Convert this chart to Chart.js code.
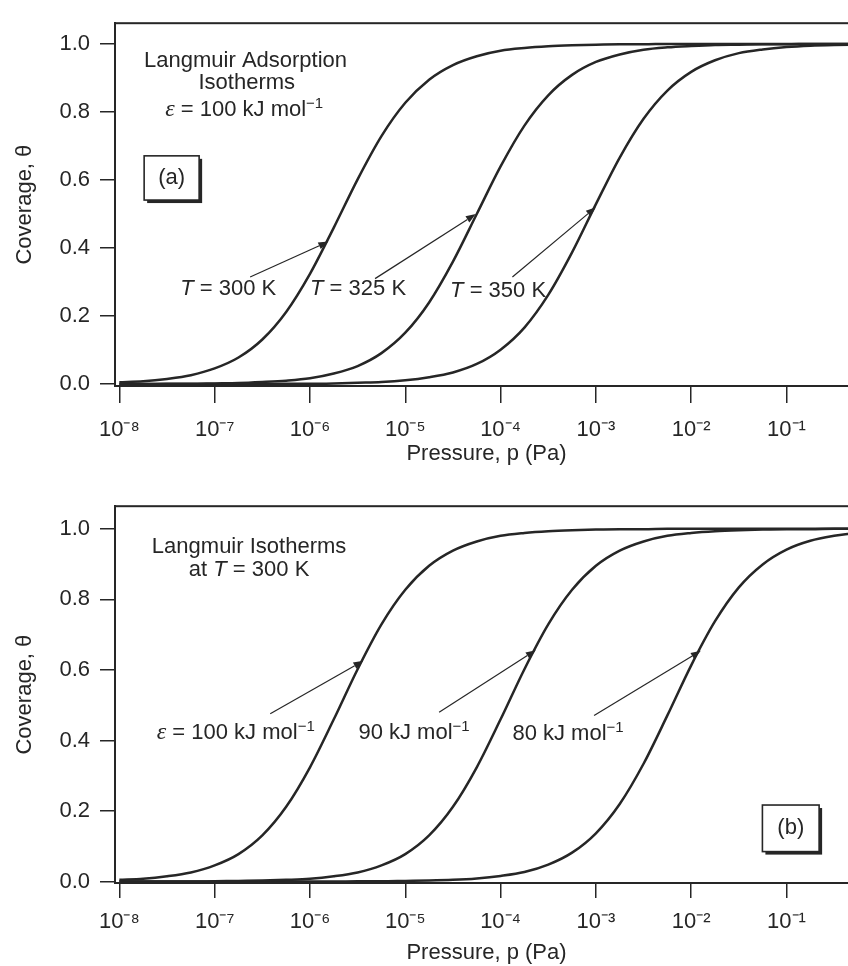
<!DOCTYPE html>
<html><head><meta charset="utf-8">
<script src="https://cdn.jsdelivr.net/npm/chart.js@4.4.1/dist/chart.umd.min.js"></script>
<style>
html,body{margin:0;padding:0;background:#fff;overflow:hidden;width:848px;height:966px;position:relative;}
canvas{position:absolute;left:0;}
</style></head><body>
<canvas id="panelA" width="870" height="483" style="top:0px"></canvas>
<canvas id="panelB" width="870" height="483" style="top:483px"></canvas>
<script>
// ---------- data ----------
const logPressure = [-8,-7.75,-7.5,-7.25,-7,-6.75,-6.5,-6.25,-6,-5.75,-5.5,-5.25,-5,-4.75,-4.5,-4.25,-4,-3.75,-3.5,-3.25,-3,-2.75,-2.5,-2.25,-2,-1.75,-1.5,-1.25,-1,-0.75,-0.5,-0.25,0];
const tickExponents = [-8,-7,-6,-5,-4,-3,-2,-1];
const coverageTicks = [0,0.2,0.4,0.6,0.8,1.0];

// panel (a): eps = 100 kJ/mol at three temperatures
const theta300K = [0.005,0.008,0.015,0.026,0.046,0.078,0.131,0.212,0.324,0.460,0.602,0.729,0.827,0.895,0.938,0.964,0.980,0.988,0.993,0.996,0.998,0.999,0.999,1,1,1,1,1,1,1,1,1,1];
const theta325K = [0,0,0.001,0.001,0.002,0.003,0.006,0.010,0.017,0.031,0.053,0.091,0.151,0.240,0.360,0.500,0.640,0.760,0.849,0.909,0.947,0.969,0.983,0.990,0.994,0.997,0.998,0.999,0.999,1,1,1,1];
const theta350K = [0,0,0,0,0,0,0,0.001,0.001,0.002,0.004,0.006,0.011,0.020,0.034,0.059,0.101,0.166,0.262,0.387,0.529,0.666,0.780,0.863,0.918,0.952,0.973,0.984,0.991,0.995,0.997,0.998,0.999];

// panel (b): T = 300 K at three adsorption energies
const theta100kJ = [0.005,0.008,0.015,0.026,0.046,0.078,0.131,0.212,0.324,0.460,0.602,0.729,0.827,0.895,0.938,0.964,0.980,0.988,0.993,0.996,0.998,0.999,0.999,1,1,1,1,1,1,1,1,1,1];
const theta90kJ = [0,0,0,0,0.001,0.002,0.003,0.005,0.008,0.015,0.026,0.046,0.078,0.131,0.212,0.324,0.460,0.602,0.729,0.827,0.895,0.938,0.964,0.980,0.988,0.993,0.996,0.998,0.999,0.999,1,1,1];
const theta80kJ = [0,0,0,0,0,0,0,0,0,0,0.001,0.001,0.002,0.003,0.005,0.009,0.016,0.027,0.048,0.082,0.137,0.220,0.334,0.471,0.613,0.738,0.834,0.899,0.941,0.966,0.980,0.989,0.994];

// ---------- styles ----------
const INK = '#262626';
const FONT = 'Liberation Sans, Arial, Helvetica, sans-serif';
const SUP = {'-':'\u207B','0':'\u2070','1':'\u00B9','2':'\u00B2','3':'\u00B3','4':'\u2074','5':'\u2075','6':'\u2076','7':'\u2077','8':'\u2078','9':'\u2079'};

// ---------- annotations (positions in data space: log10 p, theta) ----------
const EPS = {t:'\u03B5', eps:true};
const notesA = {
  texts: [
    {lx:-6.676, th:0.931, align:'center', parts:[{t:'Langmuir Adsorption'}]},
    {lx:-6.663, th:0.868, align:'center', parts:[{t:'Isotherms'}]},
    {lx:-7.519, th:0.789, align:'left', parts:[EPS,{t:' = 100 kJ mol'},{t:'\u22121',sup:true}]},
    {lx:-7.361, th:0.262, align:'left', parts:[{t:'T',it:true},{t:' = 300 K'}]},
    {lx:-5.999, th:0.262, align:'left', parts:[{t:'T',it:true},{t:' = 325 K'}]},
    {lx:-4.530, th:0.256, align:'left', parts:[{t:'T',it:true},{t:' = 350 K'}]}
  ],
  arrows: [[-6.628,0.315,-5.807,0.419],[-5.317,0.310,-4.260,0.500],[-3.876,0.315,-3.001,0.52]],
  box: {lx0:-7.740, lx1:-7.163, th0:0.671, th1:0.541, label:'(a)'}
};
const notesB = {
  texts: [
    {lx:-6.639, th:0.932, align:'center', parts:[{t:'Langmuir Isotherms'}]},
    {lx:-6.639, th:0.866, align:'center', parts:[{t:'at '},{t:'T',it:true},{t:' = 300 K'}]},
    {lx:-7.608, th:0.405, align:'left', parts:[EPS,{t:' = 100 kJ mol'},{t:'\u22121',sup:true}]},
    {lx:-5.492, th:0.405, align:'left', parts:[{t:'90 kJ mol'},{t:'\u22121',sup:true}]},
    {lx:-3.876, th:0.400, align:'left', parts:[{t:'80 kJ mol'},{t:'\u22121',sup:true}]}
  ],
  arrows: [[-6.417,0.476,-5.440,0.626],[-4.645,0.480,-3.631,0.656],[-3.019,0.471,-1.899,0.654]],
  box: {lx0:-1.253, lx1:-0.658, th0:0.217, th1:0.085, label:'(b)'}
};

function partFont(p){
  if (p.sup) return '15px ' + FONT;
  if (p.eps) return 'italic 24px Liberation Serif, serif';
  if (p.it) return 'italic 22px ' + FONT;
  return '22px ' + FONT;
}

const annotPlugin = {
  id: 'annot',
  afterDraw(chart, args, opts) {
    const notes = opts.notes; if (!notes) return;
    const {ctx} = chart; const xs = chart.scales.x, ys = chart.scales.y;
    const X = lx => xs.getPixelForValue(Math.pow(10, lx));
    const Y = th => ys.getPixelForValue(th);
    ctx.save();
    ctx.fillStyle = INK; ctx.strokeStyle = INK; ctx.textBaseline = 'alphabetic';
    // texts
    for (const n of notes.texts) {
      let w = 0;
      for (const p of n.parts) { ctx.font = partFont(p); w += ctx.measureText(p.t).width; }
      let x = X(n.lx); const y = Y(n.th);
      if (n.align === 'center') x -= w/2;
      for (const p of n.parts) {
        ctx.font = partFont(p);
        ctx.fillText(p.t, x, p.sup ? y - 8 : y);
        x += ctx.measureText(p.t).width;
      }
    }
    // arrows
    ctx.lineWidth = 1.2;
    for (const a of notes.arrows) {
      const x0 = X(a[0]), y0 = Y(a[1]), x1 = X(a[2]), y1 = Y(a[3]);
      const ang = Math.atan2(y1-y0, x1-x0), L = 10, H = 3.6;
      const bx = x1 - L*Math.cos(ang), by = y1 - L*Math.sin(ang);
      ctx.beginPath(); ctx.moveTo(x0,y0); ctx.lineTo(bx,by); ctx.stroke();
      ctx.beginPath(); ctx.moveTo(x1,y1);
      ctx.lineTo(bx + H*Math.sin(ang), by - H*Math.cos(ang));
      ctx.lineTo(bx - H*Math.sin(ang), by + H*Math.cos(ang));
      ctx.closePath(); ctx.fill();
    }
    // boxed panel label with drop shadow
    const b = notes.box;
    const bx0 = X(b.lx0), bx1 = X(b.lx1), by0 = Y(b.th0), by1 = Y(b.th1);
    ctx.fillStyle = INK; ctx.fillRect(bx0+3, by0+3, bx1-bx0, by1-by0);
    ctx.fillStyle = '#fff'; ctx.fillRect(bx0, by0, bx1-bx0, by1-by0);
    ctx.lineWidth = 1.6; ctx.strokeRect(bx0, by0, bx1-bx0, by1-by0);
    ctx.fillStyle = INK; ctx.font = '22px ' + FONT; ctx.textAlign = 'center'; ctx.textBaseline = 'middle';
    ctx.fillText(b.label, (bx0+bx1)/2, (by0+by1)/2);
    ctx.restore();
  }
};

const framePlugin = {
  id: 'frame',
  afterDatasetsDraw(chart) {
    const {ctx, chartArea:a} = chart;
    ctx.save(); ctx.strokeStyle = INK; ctx.lineWidth = 2;
    ctx.strokeRect(a.left, a.top, a.right-a.left, a.bottom-a.top);
    ctx.restore();
  }
};

function makePanel(id, seriesList, g, notes) {
  const datasets = seriesList.map(s => ({
    data: logPressure.map((e,i) => ({x: Math.pow(10, e), y: s[i]})),
    borderColor: INK, borderWidth: 2.5, pointRadius: 0, fill: false,
    cubicInterpolationMode: 'monotone'
  }));
  return new Chart(document.getElementById(id), {
    type: 'line',
    data: { datasets },
    plugins: [framePlugin, annotPlugin],
    options: {
      responsive: false, animation: false, devicePixelRatio: 1,
      layout: { padding: { top: g.top, right: 12, bottom: 0, left: 0 } },
      plugins: { legend: {display:false}, tooltip: {enabled:false}, annot: { notes } },
      scales: {
        x: {
          type: 'logarithmic', min: Math.pow(10, -8.045), max: Math.pow(10, -0.25),
          afterBuildTicks: s => { s.ticks = tickExponents.map(e => ({value: Math.pow(10, e)})); },
          afterFit: s => { s.height = 483 - g.bottom; },
          ticks: { color: INK, font: {family: FONT, size: 22}, padding: g.xTickPad, maxRotation: 0, autoSkip: false,
            callback: v => '10' + String(Math.round(Math.log10(v))).split('').map(c => SUP[c]).join('') },
          grid: { drawOnChartArea: false, drawTicks: true, tickLength: g.xTickLen, color: INK, lineWidth: 1.5 },
          border: { display: true, color: INK, width: 2 },
          title: { display: true, text: 'Pressure, p (Pa)', color: INK, font: {family: FONT, size: 22}, padding: {top: 0, bottom: g.xTitlePad} }
        },
        y: {
          min: g.yMin, max: g.yMax,
          afterBuildTicks: s => { s.ticks = coverageTicks.map(v => ({value: v})); },
          afterFit: s => { s.width = 115; },
          ticks: { color: INK, font: {family: FONT, size: 22}, padding: 10, callback: v => Number(v).toFixed(1) },
          grid: { drawOnChartArea: false, drawTicks: true, tickLength: 15, color: INK, lineWidth: 1.5 },
          border: { display: true, color: INK, width: 2 },
          title: { display: true, text: 'Coverage, \u03B8', color: INK, font: {family: FONT, size: 22}, padding: {top: 12, bottom: 0} }
        }
      }
    }
  });
}

makePanel('panelA', [theta300K, theta325K, theta350K],
  {top: 11, bottom: 386, yMin: -0.0057, yMax: 1.061, xTickLen: 17, xTickPad: 14, xTitlePad: 16}, notesA);
makePanel('panelB', [theta100kJ, theta90kJ, theta80kJ],
  {top: 22, bottom: 400, yMin: -0.004, yMax: 1.064, xTickLen: 15, xTickPad: 11, xTitlePad: 0}, notesB);
</script>
</body></html>
